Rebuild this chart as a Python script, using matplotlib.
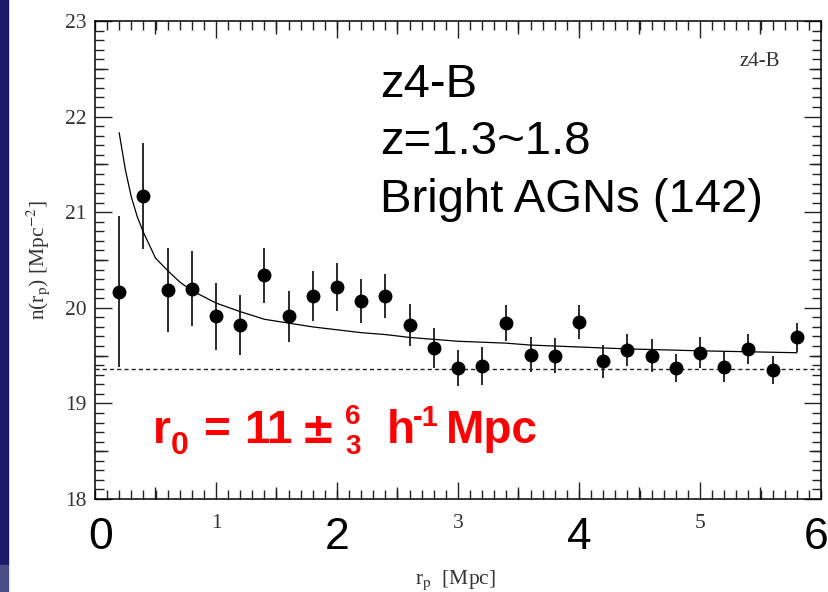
import numpy as np
import matplotlib
matplotlib.use("Agg")
import matplotlib.pyplot as plt
from matplotlib.patches import Rectangle
from matplotlib.ticker import MultipleLocator, FixedLocator, NullFormatter

# binned counts with error bars
r_p = [0.2, 0.4, 0.6, 0.8, 1.0, 1.2, 1.4, 1.6, 1.8, 2.0, 2.2, 2.4, 2.6, 2.8, 3.0,
       3.2, 3.4, 3.6, 3.8, 4.0, 4.2, 4.4, 4.6, 4.8, 5.0, 5.2, 5.4, 5.6, 5.8]
n_rp = [20.17, 21.17, 20.19, 20.20, 19.91, 19.82, 20.34, 19.91, 20.12, 20.22, 20.07, 20.12,
        19.82, 19.58, 19.37, 19.39, 19.84, 19.51, 19.50, 19.85, 19.44, 19.56, 19.50, 19.37,
        19.53, 19.38, 19.57, 19.35, 19.69]
n_err = [0.79, 0.55, 0.44, 0.39, 0.35, 0.31, 0.29, 0.27, 0.26, 0.25, 0.23, 0.23, 0.22, 0.21,
         0.19, 0.2, 0.19, 0.18, 0.18, 0.18, 0.17, 0.17, 0.17, 0.15, 0.16, 0.16, 0.16, 0.15, 0.15]

# fitted curve
fit_x = [0.2, 0.25, 0.3, 0.35, 0.4, 0.5, 0.6, 0.7, 0.8, 1.0, 1.2, 1.4, 1.6, 1.8, 2.0, 2.2,
         2.4, 2.6, 2.8, 3.0, 3.4, 3.6, 4.0, 4.4, 5.0, 5.4, 5.8]
fit_y = [21.83, 21.45, 21.16, 20.95, 20.79, 20.52, 20.39, 20.27, 20.18, 20.05, 19.96, 19.88,
         19.84, 19.80, 19.77, 19.74, 19.72, 19.69, 19.67, 19.65, 19.63, 19.61, 19.59, 19.57,
         19.55, 19.54, 19.53]
background = 19.36

big_ticks = ["0", "2", "4", "6"]
info_lines = ["z4-B", "z=1.3~1.8", "Bright AGNs (142)"]

W, H = 829, 592
fig = plt.figure(figsize=(W / 100, H / 100), dpi=100)
fig.patches.append(Rectangle((0, 27 / H), 8 / W, 1, transform=fig.transFigure,
                             color="#1b1a6b", zorder=0))
fig.patches.append(Rectangle((0, 0), 8 / W, 27 / H, transform=fig.transFigure,
                             color="#4a4e86", zorder=0))

ax = fig.add_axes([95 / W, 93 / H, 726 / W, 478 / H])
ax.set_xlim(0, 6)
ax.set_ylim(18, 23)

ax.errorbar(r_p, n_rp, yerr=n_err, fmt="o", color="black", ms=9, elinewidth=1.3,
            capsize=0, ecolor="#1a1a1a")
ax.plot(fit_x, fit_y, color="black", lw=0.9)
ax.axhline(background, color="#222222", lw=1.0, ls=(0, (3, 2.2)))

tick_col = "#333333"
serif = "Liberation Serif"
for sp in ax.spines.values():
    sp.set_linewidth(1.1)

ax.xaxis.set_major_locator(FixedLocator([1, 3, 5]))
ax.xaxis.set_minor_locator(MultipleLocator(0.1))
ax.yaxis.set_major_locator(MultipleLocator(1))
ax.yaxis.set_minor_locator(MultipleLocator(0.1))
ax.tick_params(which="both", direction="in", top=True, right=True, width=1.0, color="#222222")
ax.tick_params(which="major", length=12.5)
ax.tick_params(which="minor", length=6.5)
ax.tick_params(axis="x", which="major", pad=11, labelsize=15.5, labelcolor=tick_col)
ax.tick_params(axis="y", which="major", pad=6, labelsize=15.5, labelcolor=tick_col)
for lab in ax.get_xticklabels() + ax.get_yticklabels():
    lab.set_family(serif)

# long ticks at 2,4 (labels drawn separately) and medium ticks at halves
for loc, vals, length in [("bottom", [2, 4], 12.5), ("top", [2, 4], 12.5),
                          ("bottom", np.arange(0.5, 6, 1), 9), ("top", np.arange(0.5, 6, 1), 9)]:
    sec = ax.secondary_xaxis(loc)
    sec.set_xticks(vals)
    sec.xaxis.set_major_formatter(NullFormatter())
    sec.tick_params(direction="in", length=length, width=1.0, color="#222222")
    sec.spines[loc].set_visible(False)
for loc in ["left", "right"]:
    sec = ax.secondary_yaxis(loc)
    sec.set_yticks(np.arange(18.5, 23, 1))
    sec.yaxis.set_major_formatter(NullFormatter())
    sec.tick_params(direction="in", length=9, width=1.0, color="#222222")
    sec.spines[loc].set_visible(False)

ax.text(0.497, -0.146, r"r$_\mathrm{p}$  [Mpc]", transform=ax.transAxes, ha="center", va="top",
        family=serif, fontsize=15.5, color=tick_col, math_fontfamily="stix")
ax.text(-0.078, 0.5, r"n(r$_\mathrm{p}$) [Mpc$^{-2}$]", transform=ax.transAxes, rotation=90,
        ha="center", va="center", family=serif, fontsize=15.5, color=tick_col,
        math_fontfamily="stix")

# big slide labels on the x axis
for lab, xpos in zip(big_ticks, [0.05, 2, 4, 5.96]):
    ax.text(xpos, -0.08, lab, transform=ax.get_xaxis_transform(), ha="center", va="center",
            fontsize=32, family="Liberation Sans", color="black", clip_on=False)

ax.text(0.916, 0.916, "z4-B", transform=ax.transAxes, ha="center", va="center",
        fontsize=15, family=serif, color=tick_col)
for line, ypos in zip(info_lines, [0.841, 0.722, 0.600]):
    ax.text(0.3926, ypos, line, transform=ax.transAxes, ha="left", va="baseline",
            fontsize=34, family="Liberation Sans", color="black")

# r0 annotation, built from pieces at pixel positions
red = "#ff0000"
def px(x, y, s, size, **kw):
    fig.text(x / W, 1 - y / H, s, fontsize=size, color=red, va="baseline", ha="left", **kw)

sans_b = dict(family="Liberation Sans", weight="bold")
px(153, 443, "r", 33, **sans_b)
px(171, 454, "0", 23, **sans_b)
px(203, 443, "=", 33, **sans_b)
px(244, 443, "11", 33, **sans_b)
px(301, 443, "\u00b1", 30, family="DejaVu Sans", weight="bold")
px(345, 424, "6", 20, **sans_b)
px(345, 454, "3", 20, **sans_b)
px(387, 443, "h", 33, **sans_b)
px(413, 426, "-1", 21, **sans_b)
px(446, 443, "Mpc", 33, **sans_b)

fig.savefig("out.png", dpi=100)
